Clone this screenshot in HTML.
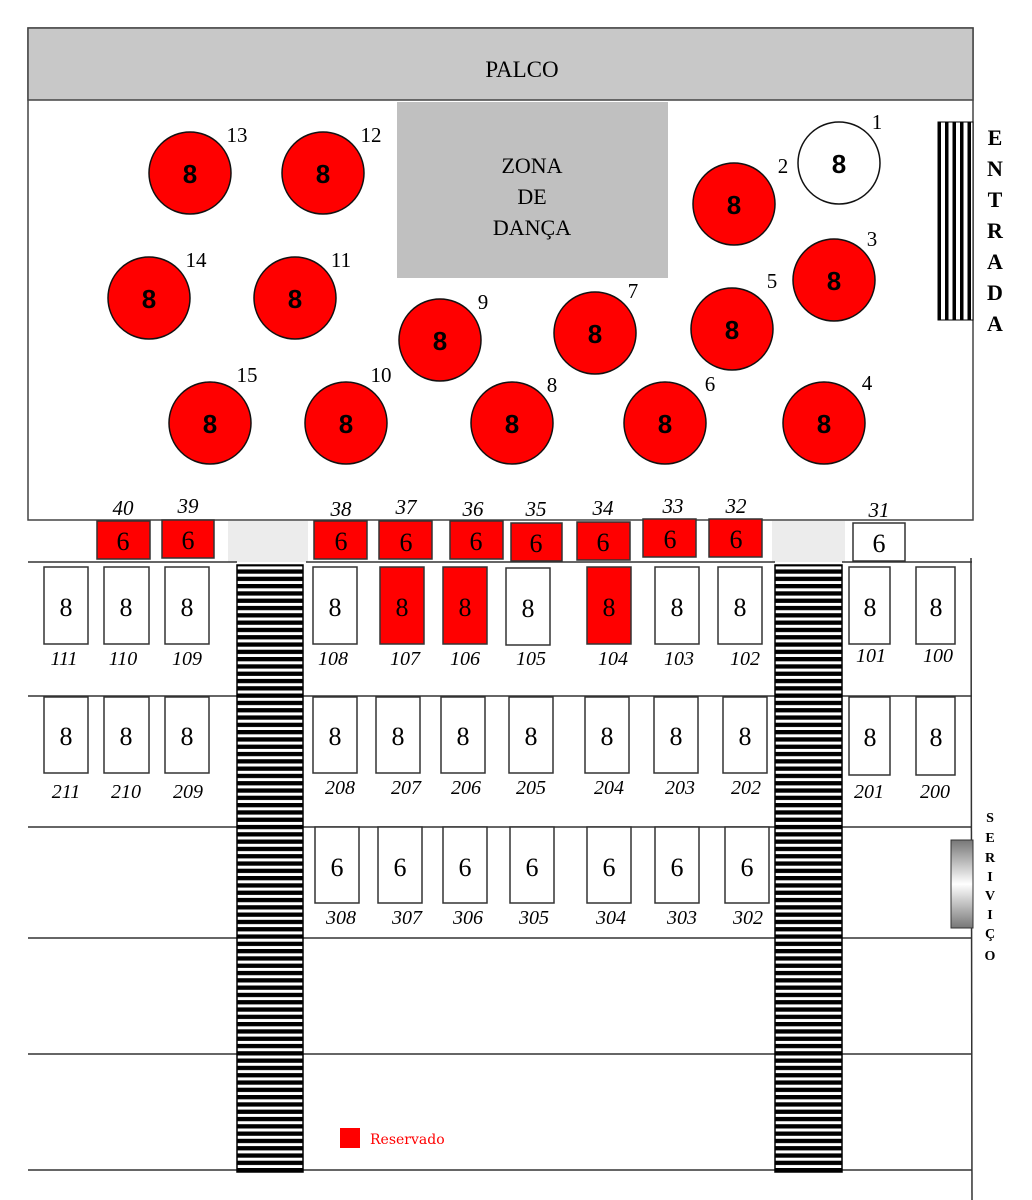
<!DOCTYPE html>
<html><head><meta charset="utf-8"><style>body{margin:0;background:#fff}svg{display:block}</style></head><body>
<svg width="1032" height="1200" viewBox="0 0 1032 1200" xmlns="http://www.w3.org/2000/svg">
<defs>
<pattern id="hs" width="10" height="7.3" patternUnits="userSpaceOnUse"><rect width="10" height="7.3" fill="#fff"/><rect width="10" height="4.3" fill="#000"/></pattern>
<pattern id="vs" width="7.5" height="10" patternUnits="userSpaceOnUse"><rect width="7.5" height="10" fill="#fff"/><rect width="3.5" height="10" fill="#000"/></pattern>
<linearGradient id="sg" x1="0" y1="0" x2="0" y2="1"><stop offset="0" stop-color="#777"/><stop offset="0.5" stop-color="#fff"/><stop offset="1" stop-color="#777"/></linearGradient>
</defs>
<rect x="28" y="28" width="945" height="492" fill="#fff" stroke="#444" stroke-width="1.5"/>
<rect x="28" y="28" width="945" height="72" fill="#c8c8c8" stroke="#444" stroke-width="1.5"/>
<text x="522" y="77" font-family="Liberation Serif" font-size="23" text-anchor="middle">PALCO</text>
<rect x="397" y="102" width="271" height="176" fill="#c0c0c0"/>
<g font-family="Liberation Serif" font-size="22" text-anchor="middle"><text x="532" y="173">ZONA</text><text x="532" y="204">DE</text><text x="532" y="235">DANÇA</text></g>
<rect x="938" y="122" width="35" height="198" fill="url(#vs)" stroke="#000"/>
<g font-family="Liberation Serif" font-size="22" font-weight="bold" text-anchor="middle"><text x="995" y="145">E</text><text x="995" y="176">N</text><text x="995" y="207">T</text><text x="995" y="238">R</text><text x="995" y="269">A</text><text x="995" y="300">D</text><text x="995" y="331">A</text></g>
<g stroke="#111" stroke-width="1.5" fill="#f00">
<circle cx="190" cy="173" r="41"/><circle cx="323" cy="173" r="41"/><circle cx="839" cy="163" r="41" fill="#fff"/><circle cx="734" cy="204" r="41"/>
<circle cx="149" cy="298" r="41"/><circle cx="295" cy="298" r="41"/><circle cx="440" cy="340" r="41"/><circle cx="595" cy="333" r="41"/><circle cx="732" cy="329" r="41"/><circle cx="834" cy="280" r="41"/>
<circle cx="210" cy="423" r="41"/><circle cx="346" cy="423" r="41"/><circle cx="512" cy="423" r="41"/><circle cx="665" cy="423" r="41"/><circle cx="824" cy="423" r="41"/>
</g>
<g font-family="Liberation Sans" font-size="26" font-weight="bold" text-anchor="middle">
<text x="190" y="183">8</text><text x="323" y="183">8</text><text x="839" y="173">8</text><text x="734" y="214">8</text>
<text x="149" y="308">8</text><text x="295" y="308">8</text><text x="440" y="350">8</text><text x="595" y="343">8</text><text x="732" y="339">8</text><text x="834" y="290">8</text>
<text x="210" y="433">8</text><text x="346" y="433">8</text><text x="512" y="433">8</text><text x="665" y="433">8</text><text x="824" y="433">8</text>
</g>
<g font-family="Liberation Serif" font-size="21" text-anchor="middle">
<text x="237" y="142">13</text><text x="371" y="142">12</text><text x="877" y="129">1</text><text x="783" y="173">2</text>
<text x="196" y="267">14</text><text x="341" y="267">11</text><text x="483" y="309">9</text><text x="633" y="298">7</text><text x="772" y="288">5</text><text x="872" y="246">3</text>
<text x="247" y="382">15</text><text x="381" y="382">10</text><text x="552" y="392">8</text><text x="710" y="391">6</text><text x="867" y="390">4</text>
</g>
<rect x="228" y="521" width="80" height="41" fill="#ececec"/><rect x="772" y="521" width="73" height="41" fill="#ececec"/>
<g stroke="#333" stroke-width="1.5" fill="#f00">
<rect x="97" y="521" width="53" height="38"/><rect x="162" y="520" width="52" height="38"/><rect x="314" y="521" width="53" height="38"/><rect x="379" y="521" width="53" height="38"/><rect x="450" y="521" width="53" height="38"/><rect x="511" y="523" width="51" height="38"/><rect x="577" y="522" width="53" height="38"/><rect x="643" y="519" width="53" height="38"/><rect x="709" y="519" width="53" height="38"/><rect x="853" y="523" width="52" height="38" fill="#fff"/>
</g>
<g font-family="Liberation Serif" font-size="26" text-anchor="middle">
<text x="123" y="550">6</text><text x="188" y="549">6</text><text x="341" y="550">6</text><text x="406" y="551">6</text><text x="476" y="550">6</text><text x="536" y="552">6</text><text x="603" y="551">6</text><text x="670" y="548">6</text><text x="736" y="548">6</text><text x="879" y="552">6</text>
</g>
<g font-family="Liberation Serif" font-size="21" font-style="italic" text-anchor="middle">
<text x="123" y="515">40</text><text x="188" y="513">39</text><text x="341" y="516">38</text><text x="406" y="514">37</text><text x="473" y="516">36</text><text x="536" y="516">35</text><text x="603" y="515">34</text><text x="673" y="513">33</text><text x="736" y="513">32</text><text x="879" y="517">31</text>
</g>
<g stroke="#333" stroke-width="1.5">
<line x1="28" y1="562" x2="237" y2="562"/><line x1="306" y1="562" x2="775" y2="562"/><line x1="842" y1="562" x2="972" y2="562"/>
<line x1="28" y1="696" x2="972" y2="696"/><line x1="28" y1="827" x2="972" y2="827"/><line x1="28" y1="938" x2="972" y2="938"/><line x1="28" y1="1054" x2="972" y2="1054"/><line x1="28" y1="1170" x2="972" y2="1170"/>
<line x1="971" y1="558" x2="972" y2="1200"/>
</g>
<rect x="237" y="565" width="66" height="607" fill="url(#hs)" stroke="#000" stroke-width="1.5"/>
<rect x="775" y="565" width="67" height="607" fill="url(#hs)" stroke="#000" stroke-width="1.5"/>
<g stroke="#333" stroke-width="1.5" fill="#fff">
<rect x="44" y="567" width="44" height="77"/><rect x="104" y="567" width="45" height="77"/><rect x="165" y="567" width="44" height="77"/><rect x="313" y="567" width="44" height="77"/><rect x="380" y="567" width="44" height="77" fill="#f00"/><rect x="443" y="567" width="44" height="77" fill="#f00"/><rect x="506" y="568" width="44" height="77"/><rect x="587" y="567" width="44" height="77" fill="#f00"/><rect x="655" y="567" width="44" height="77"/><rect x="718" y="567" width="44" height="77"/><rect x="849" y="567" width="41" height="77"/><rect x="916" y="567" width="39" height="77"/>
<rect x="44" y="697" width="44" height="76"/><rect x="104" y="697" width="45" height="76"/><rect x="165" y="697" width="44" height="76"/><rect x="313" y="697" width="44" height="76"/><rect x="376" y="697" width="44" height="76"/><rect x="441" y="697" width="44" height="76"/><rect x="509" y="697" width="44" height="76"/><rect x="585" y="697" width="44" height="76"/><rect x="654" y="697" width="44" height="76"/><rect x="723" y="697" width="44" height="76"/><rect x="849" y="697" width="41" height="78"/><rect x="916" y="697" width="39" height="78"/>
<rect x="315" y="827" width="44" height="76"/><rect x="378" y="827" width="44" height="76"/><rect x="443" y="827" width="44" height="76"/><rect x="510" y="827" width="44" height="76"/><rect x="587" y="827" width="44" height="76"/><rect x="655" y="827" width="44" height="76"/><rect x="725" y="827" width="44" height="76"/>
</g>
<g font-family="Liberation Serif" font-size="26" text-anchor="middle">
<text x="66" y="616">8</text><text x="126" y="616">8</text><text x="187" y="616">8</text><text x="335" y="616">8</text><text x="402" y="616">8</text><text x="465" y="616">8</text><text x="528" y="617">8</text><text x="609" y="616">8</text><text x="677" y="616">8</text><text x="740" y="616">8</text><text x="870" y="616">8</text><text x="936" y="616">8</text>
<text x="66" y="745">8</text><text x="126" y="745">8</text><text x="187" y="745">8</text><text x="335" y="745">8</text><text x="398" y="745">8</text><text x="463" y="745">8</text><text x="531" y="745">8</text><text x="607" y="745">8</text><text x="676" y="745">8</text><text x="745" y="745">8</text><text x="870" y="746">8</text><text x="936" y="746">8</text>
<text x="337" y="876">6</text><text x="400" y="876">6</text><text x="465" y="876">6</text><text x="532" y="876">6</text><text x="609" y="876">6</text><text x="677" y="876">6</text><text x="747" y="876">6</text>
</g>
<g font-family="Liberation Serif" font-size="20" font-style="italic" text-anchor="middle">
<text x="64" y="665">111</text><text x="123" y="665">110</text><text x="187" y="665">109</text><text x="333" y="665">108</text><text x="405" y="665">107</text><text x="465" y="665">106</text><text x="531" y="665">105</text><text x="613" y="665">104</text><text x="679" y="665">103</text><text x="745" y="665">102</text><text x="871" y="662">101</text><text x="938" y="662">100</text>
<text x="66" y="798">211</text><text x="126" y="798">210</text><text x="188" y="798">209</text><text x="340" y="794">208</text><text x="406" y="794">207</text><text x="466" y="794">206</text><text x="531" y="794">205</text><text x="609" y="794">204</text><text x="680" y="794">203</text><text x="746" y="794">202</text><text x="869" y="798">201</text><text x="935" y="798">200</text>
<text x="341" y="924">308</text><text x="407" y="924">307</text><text x="468" y="924">306</text><text x="534" y="924">305</text><text x="611" y="924">304</text><text x="682" y="924">303</text><text x="748" y="924">302</text>
</g>
<rect x="951" y="840" width="22" height="88" fill="url(#sg)" stroke="#333"/>
<g font-family="Liberation Serif" font-size="14" font-weight="bold" text-anchor="middle">
<text x="990" y="822">S</text><text x="990" y="842">E</text><text x="990" y="862">R</text><text x="990" y="881">I</text><text x="990" y="900">V</text><text x="990" y="919">I</text><text x="990" y="938">Ç</text><text x="990" y="960">O</text>
</g>
<rect x="340" y="1128" width="20" height="20" fill="#f00"/>
<text x="370" y="1144" font-family="DejaVu Serif" font-size="14" fill="#f00">Reservado</text>
</svg>
</body></html>
